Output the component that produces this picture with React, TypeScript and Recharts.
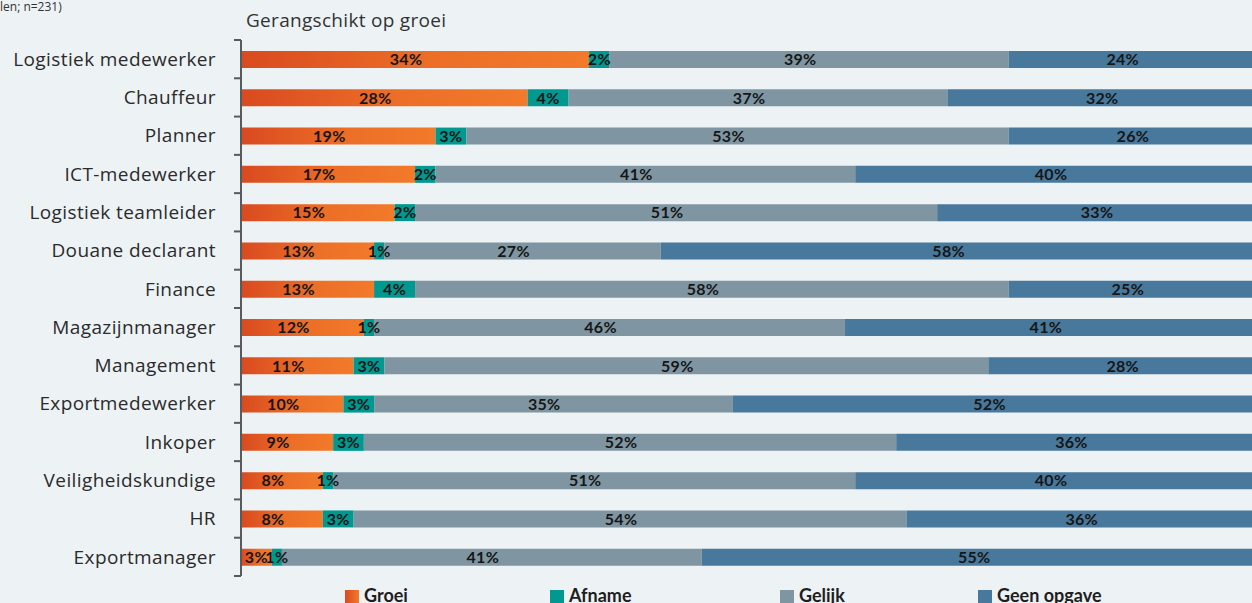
import React from 'react';
import { BarChart, Bar, XAxis, YAxis, LabelList } from 'recharts';

const functies = [
    'Logistiek medewerker',
    'Chauffeur',
    'Planner',
    'ICT-medewerker',
    'Logistiek teamleider',
    'Douane declarant',
    'Finance',
    'Magazijnmanager',
    'Management',
    'Exportmedewerker',
    'Inkoper',
    'Veiligheidskundige',
    'HR',
    'Exportmanager',
];
const groei = [34, 28, 19, 17, 15, 13, 13, 12, 11, 10, 9, 8, 8, 3];
const afname = [2, 4, 3, 2, 2, 1, 4, 1, 3, 3, 3, 1, 3, 1];
const gelijk = [39, 37, 53, 41, 51, 27, 58, 46, 59, 35, 52, 51, 54, 41];
const geenOpgave = [24, 32, 26, 40, 33, 58, 25, 41, 28, 52, 36, 40, 36, 55];

const seriesNames = ['Groei', 'Afname', 'Gelijk', 'Geen opgave'];

const data = functies.map((name, i) => ({
    name,
    groei: groei[i],
    afname: afname[i],
    gelijk: gelijk[i],
    geen: geenOpgave[i],
}));

const BG = '#edf2f5';
const TEAL = '#00988f';
const GRAY = '#7f96a2';
const BLUE = '#48789b';
const AXIS = '#5a5a5a';
const FONT = '"Open Sans", Lato, sans-serif';
const LABEL_FONT = 'Lato, "Open Sans", sans-serif';

const CHART_W = 1275;
const CHART_H = 603;
const TOP = 40;
const BOTTOM = 27;
const BAND = (CHART_H - TOP - BOTTOM) / functies.length;

const legendX = [345, 550, 780, 978];
const legendFill = ['url(#groeiLegend)', TEAL, GRAY, BLUE];

const CategoryTick = (props: any) => {
    const { x, y, payload, index } = props;
    const half = BAND / 2;
    return (
        <g>
            <line x1={x - 7} x2={x} y1={y - half} y2={y - half} stroke={AXIS} strokeWidth={2} />
            {index === functies.length - 1 && (
                <line x1={x - 7} x2={x} y1={y + half} y2={y + half} stroke={AXIS} strokeWidth={2} />
            )}
            <text
                x={x - 25}
                y={y}
                dy="0.35em"
                textAnchor="end"
                fill="#2b2b2b"
                fontSize={19}
                letterSpacing={0.4}
                fontFamily={FONT}
            >
                {payload.value}
            </text>
        </g>
    );
};

const SegmentLabel = (props: any) => {
    const { x, y, width, height, value } = props;
    const shift = width > 60 ? -9 : 0;
    return (
        <text
            x={x + width / 2 + shift}
            y={y + height / 2}
            dy="0.36em"
            textAnchor="middle"
            fill="#161616"
            fontSize={16}
            fontWeight={700}
            letterSpacing={0.3}
            fontFamily={LABEL_FONT}
        >
            {value}%
        </text>
    );
};

export default function App() {
    return (
        <div
            style={{
                position: 'fixed',
                left: 0,
                top: 0,
                width: 1252,
                height: 603,
                overflow: 'hidden',
                background: BG,
                fontFamily: FONT,
            }}
        >
            <div style={{ position: 'absolute', left: 0, top: -2, fontSize: 12, color: '#333' }}>
                len; n=231)
            </div>
            <div style={{ position: 'absolute', left: 246, top: 7, fontSize: 19, letterSpacing: 0.3, color: '#333' }}>
                Gerangschikt op groei
            </div>
            <BarChart
                width={CHART_W}
                height={CHART_H}
                data={data}
                layout="vertical"
                barSize={17}
                margin={{ top: TOP, right: 0, bottom: BOTTOM, left: 0 }}
            >
                <defs>
                    <linearGradient id="groeiGrad" x1="0" y1="0" x2="1" y2="0">
                        <stop offset="0%" stopColor="#d94a20" />
                        <stop offset="55%" stopColor="#ec6e27" />
                        <stop offset="100%" stopColor="#f27a2a" />
                    </linearGradient>
                </defs>
                <XAxis type="number" domain={[0, 100]} hide />
                <YAxis
                    type="category"
                    dataKey="name"
                    width={241}
                    axisLine={{ stroke: AXIS, strokeWidth: 2 }}
                    tickLine={false}
                    tickSize={0}
                    tickMargin={0}
                    interval={0}
                    tick={<CategoryTick />}
                />
                <Bar dataKey="groei" stackId="a" fill="url(#groeiGrad)" isAnimationActive={false}>
                    <LabelList dataKey="groei" content={<SegmentLabel />} />
                </Bar>
                <Bar dataKey="afname" stackId="a" fill={TEAL} isAnimationActive={false}>
                    <LabelList dataKey="afname" content={<SegmentLabel />} />
                </Bar>
                <Bar dataKey="gelijk" stackId="a" fill={GRAY} isAnimationActive={false}>
                    <LabelList dataKey="gelijk" content={<SegmentLabel />} />
                </Bar>
                <Bar dataKey="geen" stackId="a" fill={BLUE} isAnimationActive={false}>
                    <LabelList dataKey="geen" content={<SegmentLabel />} />
                </Bar>
            </BarChart>
            <svg
                width={1252}
                height={30}
                style={{ position: 'absolute', left: 0, top: 583, overflow: 'visible' }}
            >
                <defs>
                    <linearGradient id="groeiLegend" x1="0" y1="0" x2="1" y2="0">
                        <stop offset="0%" stopColor="#d94a20" />
                        <stop offset="100%" stopColor="#f27a2a" />
                    </linearGradient>
                </defs>
                {seriesNames.map((s, i) => (
                    <g key={s}>
                        <rect x={legendX[i]} y={7} width={14} height={14} fill={legendFill[i]} />
                        <text
                            x={legendX[i] + 19}
                            y={19}
                            fontSize={18}
                            fontWeight={700}
                            fill="#1e1e1e"
                            fontFamily={LABEL_FONT}
                        >
                            {s}
                        </text>
                    </g>
                ))}
            </svg>
        </div>
    );
}
